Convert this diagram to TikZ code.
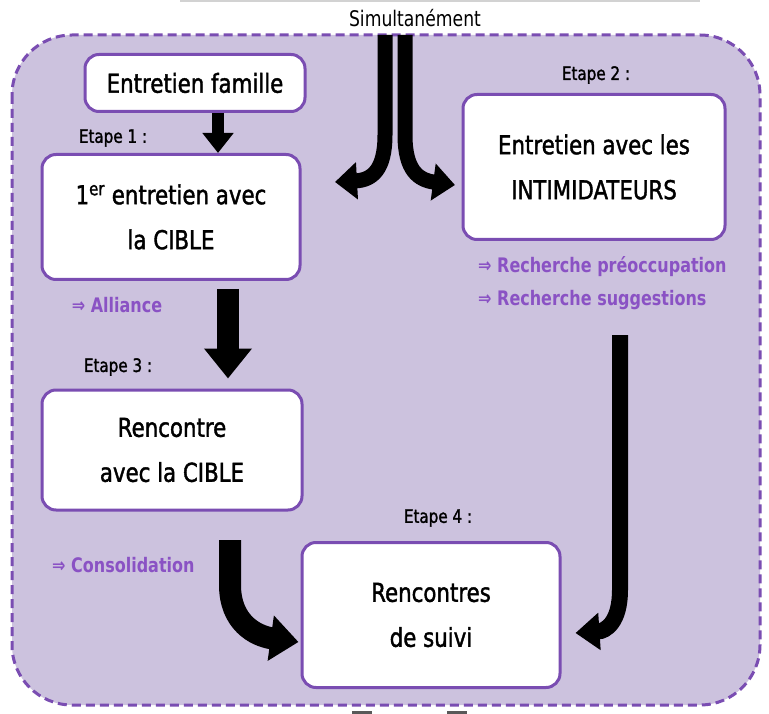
\documentclass[tikz,border=0pt]{standalone}
\usepackage{fontspec}
\setmainfont[FakeStretch=0.8]{DejaVu Sans}
\newfontfamily\boxfont[FakeStretch=0.82,FakeBold=1.5]{DejaVu Sans}
\usetikzlibrary{arrows.meta}
\definecolor{bgpurple}{HTML}{CCC2DE}
\definecolor{bord}{HTML}{7A4DB2}
\definecolor{lab}{HTML}{8A52C4}
\begin{document}
\begin{tikzpicture}[x=1pt,y=-1pt,
  box/.style={draw=bord, line width=3pt, fill=white, rounded corners=14pt, align=center, inner sep=0pt, font=\boxfont\fontsize{26}{45}\selectfont},
  etape/.style={font=\boxfont\fontsize{18.5}{20}\selectfont, inner sep=0pt},
  note/.style={font=\fontsize{20}{22}\selectfont\bfseries, text=lab, inner sep=0pt},
  arr/.style n args={3}{line width=#1, -{Triangle[width=#2,length=#3]}, black}
]
\useasboundingbox (0,0) rectangle (769,714);
\fill[white] (0,0) rectangle (769,714);
% faint fragments at the edges
\draw[gray!35, line width=1.5pt] (180,1) -- (700,1);
\fill[gray!70!black] (352,711) rectangle (372,714);
\fill[gray!70!black] (447,711) rectangle (467,714);
% frame
\draw[bord, line width=3pt, dash pattern=on 9pt off 5pt, fill=bgpurple, rounded corners=60pt] (12,35) rectangle (760,705);

\node[font=\fontsize{21.5}{22}\selectfont, inner sep=0pt] (sim) at (415,18) {Simultanément};

% boxes
\node[box, minimum width=220pt, minimum height=57pt] (fam) at (195,83) {Entretien famille};
\node[box, minimum width=258pt, minimum height=125pt] (c1) at (171,217) {1\textsuperscript{er} entretien avec\\la CIBLE};
\node[box, minimum width=262pt, minimum height=145pt] (c2) at (594,167) {Entretien avec les\\INTIMIDATEURS};
\node[box, minimum width=260pt, minimum height=120pt] (c3) at (172,450) {Rencontre\\avec la CIBLE};
\node[box, minimum width=258pt, minimum height=145pt] (c4) at (431,615) {Rencontres\\de suivi};

% labels
\node[etape] (e1) at (113,138) {Etape 1 :};
\node[etape] (e2) at (596,75) {Etape 2 :};
\node[etape] (e3) at (118,367) {Etape 3 :};
\node[etape] (e4) at (438,518) {Etape 4 :};
\node[note] (n1) at (117,305) {⇒ Alliance};
\node[note, anchor=west] (n2) at (478,267) {⇒ Recherche préoccupation};
\node[note, anchor=west] (n3) at (478,300) {⇒ Recherche suggestions};
\node[note, anchor=west] (n4) at (52,565) {⇒ Consolidation};

% arrows
\draw[arr={12pt}{30pt}{20pt}] ([xshift=23pt]fam.south) -- ([xshift=47pt]c1.north);
\draw[arr={22pt}{46pt}{30pt}] ([xshift=57pt,yshift=-8pt]c1.south) -- ([xshift=56pt,yshift=10pt]c3.north);

\coordinate (sa) at (385,35);
\coordinate (sb) at (405,35);
\coordinate (sl) at (335,182);
\coordinate (sr) at (455,185);
\draw[arr={15pt}{36pt}{22pt}] (sa) -- (385,135) .. controls (385,170) and (372,180) .. (sl);
\draw[arr={15pt}{36pt}{22pt}] (sb) -- (405,135) .. controls (405,170) and (418,180) .. (sr);

\coordinate (ca) at (230,540);
\draw[arr={22pt}{44pt}{28pt}] (ca) -- (230,585) .. controls (230,622) and (255,636) .. ([xshift=-2pt,yshift=-27pt]c4.west);

\coordinate (ra) at (620,335);
\draw[arr={16pt}{36pt}{24pt}] (ra) -- (620,590) .. controls (620,622) and (606,631) .. ([xshift=14pt,yshift=-18pt]c4.east);
\end{tikzpicture}
\end{document}
